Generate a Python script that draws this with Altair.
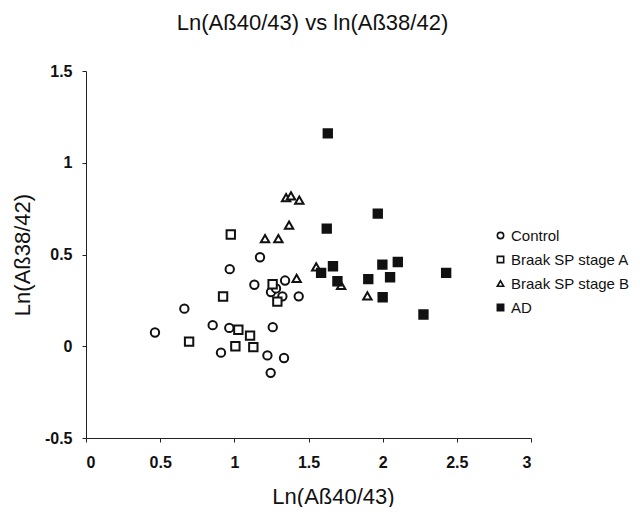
import altair as alt
import pandas as pd

groups = ["Control", "Braak SP stage A", "Braak SP stage B", "AD"]

control_x = [0.465, 0.663, 0.854, 0.910, 0.969, 0.966, 1.135, 1.173, 1.247, 1.281, 1.342, 1.324, 1.434, 1.259, 1.223, 1.335, 1.245]
control_y = [0.075, 0.205, 0.115, -0.035, 0.420, 0.100, 0.335, 0.485, 0.295, 0.315, 0.358, 0.272, 0.272, 0.104, -0.050, -0.064, -0.145]

braak_a_x = [0.695, 0.924, 0.976, 1.027, 1.007, 1.106, 1.128, 1.258, 1.290]
braak_a_y = [0.025, 0.271, 0.609, 0.090, 0.000, 0.058, -0.005, 0.338, 0.243]

braak_b_x = [1.207, 1.297, 1.369, 1.349, 1.382, 1.438, 1.420, 1.552, 1.720, 1.897]
braak_b_y = [0.587, 0.587, 0.660, 0.810, 0.820, 0.796, 0.370, 0.433, 0.332, 0.275]

ad_x = [1.630, 1.623, 1.967, 1.585, 1.665, 1.695, 1.903, 1.998, 2.102, 2.050, 2.000, 2.275, 2.428]
ad_y = [1.160, 0.641, 0.723, 0.400, 0.436, 0.354, 0.366, 0.445, 0.459, 0.376, 0.267, 0.173, 0.400]

x_ticks = [0, 0.5, 1, 1.5, 2, 2.5, 3]
y_ticks = [-0.5, 0, 0.5, 1, 1.5]

rows = []
for g, xs, ys in zip(groups, [control_x, braak_a_x, braak_b_x, ad_x],
                     [control_y, braak_a_y, braak_b_y, ad_y]):
    for xv, yv in zip(xs, ys):
        rows.append({"group": g, "x": xv, "y": yv})
df = pd.DataFrame(rows)

FONT = "Liberation Sans"

legend_kw = dict(title=None, orient="none", legendX=407, legendY=157,
                 labelFontSize=15, labelColor="#111111", labelOffset=3,
                 symbolSize=40, rowPadding=8, symbolStrokeWidth=1.6)

points = alt.Chart(df).mark_point(
    filled=True, size=70, stroke="#111111", strokeWidth=2, opacity=1
).encode(
    x=alt.X("x:Q", scale=alt.Scale(domain=[0, 3], nice=False),
            axis=alt.Axis(values=x_ticks, labelExpr="toString(datum.value)",
                          title="Ln(Aß40/43)", titleFontSize=22, titleFontWeight="normal",
                          titlePadding=16, titleX=247, titleAlign="center",
                          labelFontSize=16, labelFontWeight="bold",
                          labelPadding=12, tickSize=4, grid=False,
                          domainColor="#222222", tickColor="#222222",
                          labelColor="#111111", titleColor="#111111")),
    y=alt.Y("y:Q", scale=alt.Scale(domain=[-0.5, 1.5], nice=False),
            axis=alt.Axis(values=y_ticks, labelExpr="toString(datum.value)",
                          title="Ln(Aß38/42)", titleFontSize=22, titleFontWeight="normal",
                          titlePadding=10, labelFontSize=16, labelFontWeight="bold",
                          labelPadding=10, tickSize=4, grid=False,
                          domainColor="#222222", tickColor="#222222",
                          labelColor="#111111", titleColor="#111111")),
    shape=alt.Shape("group:N", sort=groups,
                    scale=alt.Scale(domain=groups,
                                    range=["circle", "square", "triangle-up", "square"]),
                    legend=alt.Legend(**legend_kw)),
    fill=alt.Fill("group:N", sort=groups,
                  scale=alt.Scale(domain=groups,
                                  range=["white", "white", "white", "#111111"]),
                  legend=alt.Legend(**legend_kw)),
)

chart = points.properties(
    width=445,
    height=367,
    title=alt.TitleParams("Ln(Aß40/43) vs ln(Aß38/42)", fontSize=22, fontWeight="normal",
                          anchor="middle", offset=28, dx=4, color="#111111"),
    autosize=alt.AutoSizeParams(type="none"),
    padding={"left": 78, "top": 63, "right": 100, "bottom": 69},
).configure(font=FONT).configure_view(stroke=None)

chart.save("out.html", embed_options={"renderer": "svg", "actions": False})
